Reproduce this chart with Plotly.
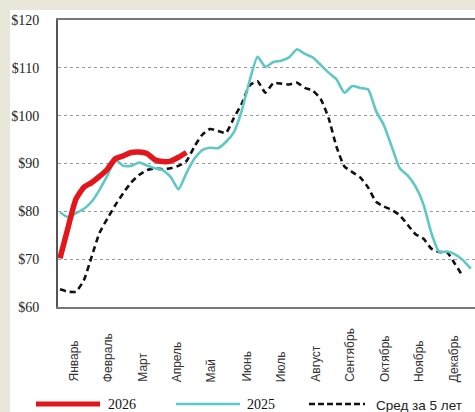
import plotly.graph_objects as go

# ---- data (weekly, week index) ----
weeks_2026 = list(range(1, 18))
price_2026 = [70.2, 76.5, 82.5, 85.0, 86.0, 87.3, 88.8, 91.0, 91.6, 92.3,
              92.4, 92.1, 90.8, 90.4, 90.5, 91.3, 92.3]

weeks_2025 = list(range(1, 54))
price_2025 = [79.8, 78.8, 79.6, 80.5, 82.0, 84.5, 87.5, 90.8, 89.5, 89.5,
              90.2, 89.6, 89.0, 88.6, 87.2, 84.6, 88.0, 91.0, 92.8, 93.3,
              93.2, 94.5, 96.5, 101.0, 107.3, 112.3, 110.2, 111.2, 111.5, 112.2,
              113.9, 112.9, 112.2, 110.6, 109.0, 107.6, 104.8, 106.2, 105.8, 105.5,
              101.0, 98.0, 93.5, 89.0, 87.5, 85.2, 81.5, 75.5, 71.5, 71.6,
              71.0, 69.8, 68.0]

weeks_avg = list(range(1, 53))
price_avg = [63.7, 63.2, 63.2, 65.5, 70.5, 75.5, 78.5, 81.3, 83.8, 86.0,
             87.6, 88.6, 89.0, 88.8, 89.0, 89.5, 90.5, 93.5, 96.0, 97.2,
             96.8, 96.4, 99.5, 102.5, 106.3, 107.2, 104.8, 106.8, 106.7, 106.5,
             106.9, 105.8, 105.2, 103.5, 99.5, 93.5, 89.4, 88.2, 87.1, 85.0,
             82.0, 81.0, 80.3, 79.2, 77.2, 75.2, 74.3, 72.2, 71.5, 71.4,
             69.0, 66.4]

month_ticks = [2.65, 7.03, 11.41, 15.79, 20.17, 24.55, 28.93, 33.31, 37.69, 42.07, 46.45, 50.83]
month_labels = ["Январь", "Февраль", "Март", "Апрель", "Май", "Июнь", "Июль",
                "Август", "Сентябрь", "Октябрь", "Ноябрь", "Декабрь"]
y_ticks = [60, 70, 80, 90, 100, 110, 120]
y_labels = ["$60", "$70", "$80", "$90", "$100", "$110", "$120"]

legend_names = ["2026", "2025", "Сред за 5 лет"]

RED = "#e3161b"
TEAL = "#5ec9c3"
BLACK = "#111111"
BEIGE = "#e9e6da"

W, H = 475, 412
L, R, T, B = 58, 0, 20, 105
PW, PH = W - L - R, H - T - B

def px(xp):
    return (xp - L) / PW

def py(yp):
    return (H - B - yp) / PH

fig = go.Figure()
fig.add_trace(go.Scatter(x=weeks_avg, y=price_avg, mode="lines", name=legend_names[2],
                         line=dict(color=BLACK, width=2.6, dash="6px,4px", shape="spline", smoothing=0.5)))
fig.add_trace(go.Scatter(x=weeks_2025, y=price_2025, mode="lines", name=legend_names[1],
                         line=dict(color=TEAL, width=2.6, shape="spline", smoothing=0.5)))
fig.add_trace(go.Scatter(x=weeks_2026, y=price_2026, mode="lines", name=legend_names[0],
                         line=dict(color=RED, width=5.5, shape="spline", smoothing=0.5)))

shapes = [
    dict(type="rect", xref="paper", yref="paper", x0=px(0), x1=px(W), y0=py(10), y1=py(0),
         fillcolor=BEIGE, line=dict(width=0), layer="below"),
    dict(type="rect", xref="paper", yref="paper", x0=px(0), x1=px(10), y0=py(H), y1=py(0),
         fillcolor=BEIGE, line=dict(width=0), layer="below"),
    # legend samples
    dict(type="line", xref="paper", yref="paper", x0=px(36), x1=px(100), y0=py(404), y1=py(404),
         line=dict(color=RED, width=5)),
    dict(type="line", xref="paper", yref="paper", x0=px(176), x1=px(240), y0=py(404), y1=py(404),
         line=dict(color=TEAL, width=2.6)),
    dict(type="line", xref="paper", yref="paper", x0=px(309), x1=px(365), y0=py(404), y1=py(404),
         line=dict(color=BLACK, width=2.6, dash="6px,3px")),
]

annotations = [
    dict(xref="paper", yref="paper", x=px(106), y=py(404), text=legend_names[0], showarrow=False,
         xanchor="left", yanchor="middle", font=dict(family="Liberation Serif", size=14, color="#111")),
    dict(xref="paper", yref="paper", x=px(245), y=py(404), text=legend_names[1], showarrow=False,
         xanchor="left", yanchor="middle", font=dict(family="Liberation Serif", size=14, color="#111")),
    dict(xref="paper", yref="paper", x=px(374), y=py(405), text=legend_names[2], showarrow=False,
         xanchor="left", yanchor="middle", font=dict(family="Liberation Sans", size=13.5, color="#222")),
]

# month labels: rotated, aligned at their start (bottom)
for tv, lab in zip(month_ticks, month_labels):
    annotations.append(dict(xref="x", yref="paper", x=tv, y=py(384), text=lab, showarrow=False,
                            textangle=-90, xanchor="center", yanchor="bottom",
                            font=dict(family="Liberation Sans", size=12, color="#333")))

fig.update_layout(
    width=W, height=H,
    margin=dict(l=L, r=R, t=T, b=B, pad=0),
    paper_bgcolor="white", plot_bgcolor="white",
    showlegend=False,
    shapes=shapes, annotations=annotations,
    xaxis=dict(range=[1 - 2 / 7.9, 1 + (W - 60) / 7.9], tickmode="array", tickvals=month_ticks,
               ticktext=month_labels, showticklabels=False, showgrid=False, zeroline=False,
               showline=True, linecolor="#777", linewidth=2, mirror=True, ticks=""),
    yaxis=dict(range=[60, 120], tickmode="array", tickvals=y_ticks, ticktext=y_labels,
               showgrid=True, gridcolor="#9a9a9a", gridwidth=1, griddash="dot", zeroline=False,
               tickfont=dict(family="Liberation Serif", size=14, color="#222"),
               showline=True, linecolor="#555", linewidth=2,
               ticks="outside", ticklen=14, tickcolor="rgba(0,0,0,0)"),
)

fig.write_html("out.html", config={"displayModeBar": False},
               post_script="document.body.style.margin='0';document.body.style.overflow='hidden';")
